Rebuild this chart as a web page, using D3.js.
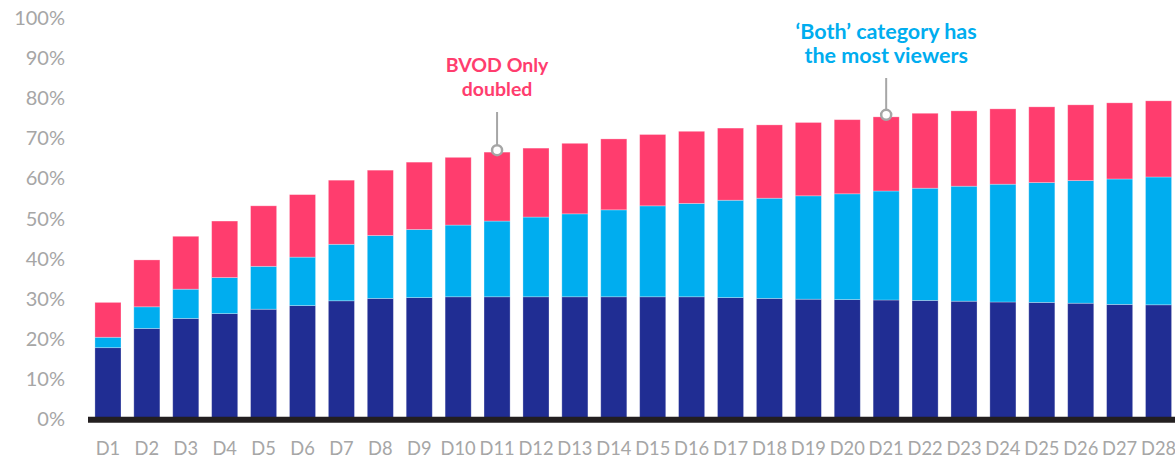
<!DOCTYPE html>
<meta charset="utf-8">
<head>
<style>
  body { margin: 0; background: #fff; }
  .tick text { font-family: Lato, "Open Sans", sans-serif; fill: #a6a6a6; }
  .note { font-family: Lato, "Open Sans", sans-serif; font-weight: bold; }
</style>
</head>
<body>
<script src="https://d3js.org/d3.v7.min.js"></script>

<div id="my_dataviz"></div>

<script>
    // categories and series (segment values, % of viewers)
    var days = ["D1","D2","D3","D4","D5","D6","D7","D8","D9","D10","D11","D12","D13","D14",
                "D15","D16","D17","D18","D19","D20","D21","D22","D23","D24","D25","D26","D27","D28"];
    var linearOnly = [17.8,22.6,25.1,26.3,27.4,28.3,29.5,30.1,30.3,30.5,30.5,30.5,30.5,30.5,
                      30.5,30.5,30.3,30.1,29.9,29.8,29.7,29.6,29.4,29.2,29.1,28.9,28.6,28.5];
    var both = [2.6,5.4,7.3,9.0,10.7,12.1,14.1,15.7,17.0,17.9,18.9,19.9,20.7,21.7,
                22.7,23.3,24.3,25.0,25.8,26.4,27.2,28.0,28.7,29.4,29.9,30.6,31.3,31.9];
    var bvodOnly = [8.7,11.7,13.2,14.1,15.1,15.6,16.0,16.3,16.8,16.9,17.2,17.2,17.6,17.7,
                    17.8,18.0,18.0,18.3,18.3,18.5,18.5,18.7,18.8,18.8,18.9,18.9,19.0,19.0];
    var yTicks = [0,10,20,30,40,50,60,70,80,90,100];

    var keys = ["linear", "both", "bvod"];
    var colors = ["#202d93", "#00adef", "#ff3d6e"];

    var data = days.map(function(d, i) {
      return {day: d, linear: linearOnly[i], both: both[i], bvod: bvodOnly[i]};
    });

    var width = 1175, height = 459;

    var svg = d3.select("#my_dataviz")
      .append("svg")
        .attr("width", width)
        .attr("height", height);

    var x = d3.scaleBand()
        .domain(days)
        .range([88.5, 1178])
        .paddingInner(0.33)
        .paddingOuter(0.165);

    var y = d3.scaleLinear()
        .domain([0, 100])
        .range([419, 18.3]);

    var color = d3.scaleOrdinal().domain(keys).range(colors);

    // y axis labels
    var yAxis = svg.append("g")
        .attr("transform", "translate(65,0)")
        .call(d3.axisLeft(y).tickValues(yTicks).tickSize(0).tickPadding(0)
          .tickFormat(function(d) { return d + "%"; }));
    yAxis.select(".domain").remove();
    yAxis.selectAll("text").style("font-size", "20px");

    // x axis labels
    var xAxis = svg.append("g")
        .attr("transform", "translate(0,419)")
        .call(d3.axisBottom(x).tickSize(0).tickPadding(23));
    xAxis.select(".domain").remove();
    xAxis.selectAll("text").style("font-size", "18.3px");

    // stacked bars
    var stacked = d3.stack().keys(keys)(data);
    svg.append("g")
      .selectAll("g")
      .data(stacked)
      .enter().append("g")
        .attr("fill", function(d) { return color(d.key); })
      .selectAll("rect")
      .data(function(d) { return d; })
      .enter().append("rect")
        .attr("x", function(d) { return x(d.data.day); })
        .attr("y", function(d) { return y(d[1]); })
        .attr("width", x.bandwidth())
        .attr("height", function(d) { return y(d[0]) - y(d[1]); })
        .attr("stroke", "#fff")
        .attr("stroke-opacity", 0.35)
        .attr("stroke-width", 0.8);

    // black base line
    svg.append("line")
        .attr("x1", 88).attr("x2", width)
        .attr("y1", 419.7).attr("y2", 419.7)
        .attr("stroke", "#231f20")
        .attr("stroke-width", 6);

    // annotations
    var notes = [
      {day: "D11", lines: ["BVOD Only", "doubled"], color: "#ff3d6e", top: 71.5, lineTop: 112, size: 19.5},
      {day: "D21", lines: ["\u2018Both\u2019 category has", "the most viewers"], color: "#00adef", top: 38.5, lineTop: 78, size: 21.5}
    ];

    notes.forEach(function(n) {
      var i = days.indexOf(n.day);
      var cx = x(n.day) + x.bandwidth() / 2;
      var total = linearOnly[i] + both[i] + bvodOnly[i];
      var cy = y(total) - 2;
      var g = svg.append("g");
      g.append("text")
        .attr("class", "note")
        .attr("text-anchor", "middle")
        .attr("fill", n.color)
        .style("font-size", n.size + "px")
        .selectAll("tspan")
        .data(n.lines)
        .enter().append("tspan")
          .attr("x", cx)
          .attr("y", function(d, j) { return n.top + j * 24.5; })
          .text(function(d) { return d; });
      g.append("line")
        .attr("x1", cx).attr("x2", cx)
        .attr("y1", n.lineTop).attr("y2", cy - 5)
        .attr("stroke", "#a6a6a6")
        .attr("stroke-width", 2);
      g.append("circle")
        .attr("cx", cx).attr("cy", cy)
        .attr("r", 5)
        .attr("fill", "#fff")
        .attr("stroke", "#a6a6a6")
        .attr("stroke-width", 2.5);
    });
</script>
</body>
